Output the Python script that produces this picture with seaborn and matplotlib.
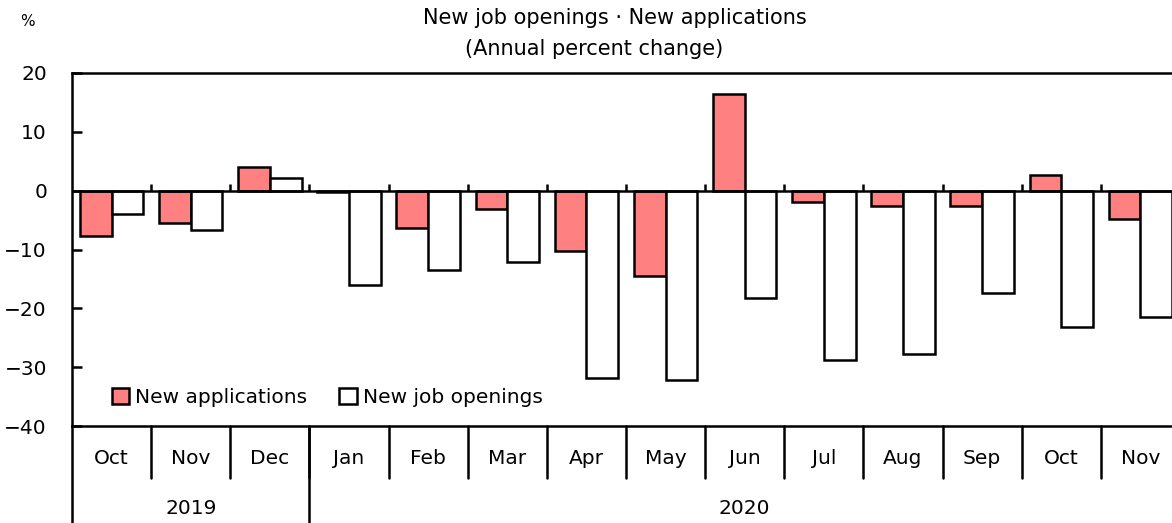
import pandas as pd
import numpy as np
import matplotlib
matplotlib.use("Agg")
import matplotlib.pyplot as plt
import matplotlib.transforms as mtransforms
import seaborn as sns

months = ["Oct", "Nov", "Dec", "Jan", "Feb", "Mar", "Apr", "May", "Jun",
          "Jul", "Aug", "Sep", "Oct", "Nov"]
years = ["2019", "2020"]
year_spans = [(0, 2), (3, 13)]
applications = [-7.7, -5.5, 4.0, -0.3, -6.4, -3.1, -10.3, -14.5, 16.4,
                -1.9, -2.6, -2.6, 2.6, -4.9]
openings = [-4.0, -6.7, 2.1, -16.1, -13.5, -12.2, -31.9, -32.2, -18.3,
            -28.7, -27.8, -17.4, -23.2, -21.5]
series = ["New applications", "New job openings"]

sns.set_theme(style="white")
plt.rcParams["font.family"] = ["DejaVu Sans"]
plt.rcParams["text.color"] = "black"
plt.rcParams["ytick.color"] = "black"
plt.rcParams["ytick.labelcolor"] = "black"

FS = 14.5

idx = [f"{i:02d}" for i in range(len(months))]
df = pd.DataFrame({
    "period": idx * 2,
    "value": applications + openings,
    "series": [series[0]] * len(months) + [series[1]] * len(months),
})

fig = plt.figure(figsize=(11.72, 5.23), dpi=100)
ax = fig.add_axes([72 / 1172, 1 - 426 / 523, 1108 / 1172, 353 / 523])

sns.barplot(data=df, x="period", y="value", hue="series", hue_order=series,
            order=idx, palette={series[0]: "#FF8080", series[1]: "white"},
            edgecolor="black", linewidth=1.8, width=0.8, ax=ax,
            saturation=1, errorbar=None)

ax.set_ylim(-40, 20)
ax.set_xlim(-0.5, len(months) - 0.5)
ax.set_yticks([-40, -30, -20, -10, 0, 10, 20])
ax.tick_params(axis="y", direction="in", length=7, width=1.8, pad=18,
               labelsize=FS, left=True, colors="black")
ax.set_xticks([])
ax.set_xlabel("")
ax.set_ylabel("")
for s in ["left", "top", "bottom"]:
    ax.spines[s].set_linewidth(1.8)
    ax.spines[s].set_color("black")
ax.spines["right"].set_visible(False)

# zero line and small boundary ticks
ax.axhline(0, color="black", lw=1.8, zorder=5)
bounds = np.arange(len(months) + 1) - 0.5
ax.vlines(bounds[1:-1], 0, 1.2, color="black", lw=1.8, zorder=5)

# category table below axes
trans = mtransforms.blended_transform_factory(ax.transData, ax.transAxes)
for b in bounds[1:-1]:
    ax.plot([b, b], [0, -52 / 353], color="black", lw=1.8,
            transform=trans, clip_on=False)
ax.plot([-0.5, -0.5], [0, -100 / 353], color="black", lw=1.8,
        transform=trans, clip_on=False)
ax.plot([2.5, 2.5], [0, -100 / 353], color="black", lw=1.8,
        transform=trans, clip_on=False)
for i, m in enumerate(months):
    ax.text(i, -33 / 353, m, transform=trans, ha="center", va="center",
            fontsize=FS)
for y, (a, b) in zip(years, year_spans):
    ax.text((a + b) / 2, -83 / 353, y, transform=trans, ha="center",
            va="center", fontsize=FS)

leg = ax.legend(loc="center left", bbox_to_anchor=(0.036, 0.082), ncol=2,
                frameon=False, fontsize=FS, handlelength=0.85,
                handleheight=0.85, handletextpad=0.3, columnspacing=1.6,
                borderpad=0, borderaxespad=0)
for t in leg.get_texts():
    t.set_color("black")

fig.text(615 / 1172, 1 - 18 / 523, "New job openings · New applications",
         ha="center", va="center", fontsize=FS + 0.5)
fig.text(594 / 1172, 1 - 49 / 523, "(Annual percent change)",
         ha="center", va="center", fontsize=FS + 0.5)
fig.text(27 / 1172, 1 - 22 / 523, "%", ha="center", va="center", fontsize=11)

fig.savefig("out.png", dpi=100)
